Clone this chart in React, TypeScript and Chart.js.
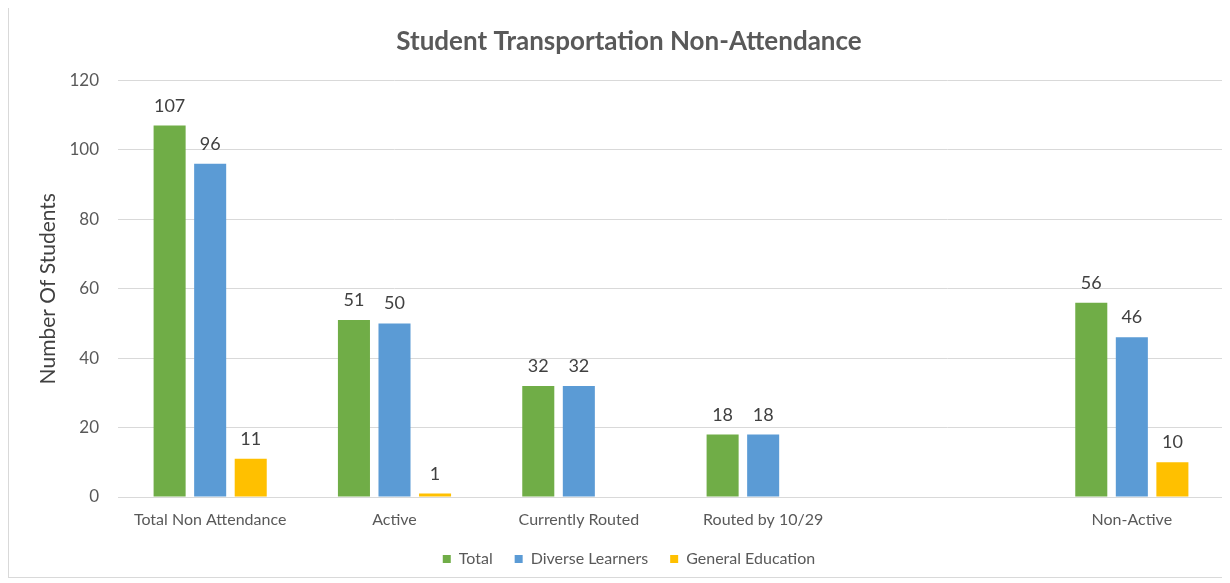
import React, { useEffect, useRef } from "react";
import { Chart, registerables } from "chart.js";

Chart.register(...registerables);

const categories = [
  "Total Non Attendance",
  "Active",
  "Currently Routed",
  "Routed by 10/29",
  "",
  "Non-Active",
];
const totalValues = [107, 51, 32, 18, null, 56];
const diverseValues = [96, 50, 32, 18, null, 46];
const generalValues = [11, 1, null, null, null, 10];
const yTicks = { min: 0, max: 120, step: 20 };

const FONT = "Lato";
const TEXT = "#595959";

const valueLabels = {
  id: "valueLabels",
  afterDatasetsDraw(chart: any) {
    const ctx = chart.ctx;
    ctx.save();
    ctx.font = `18px ${FONT}`;
    ctx.fillStyle = "#404040";
    ctx.textAlign = "center";
    ctx.textBaseline = "alphabetic";
    chart.data.datasets.forEach((ds: any, di: number) => {
      const meta = chart.getDatasetMeta(di);
      meta.data.forEach((el: any, i: number) => {
        const v = ds.data[i];
        if (v === null || v === undefined) return;
        ctx.fillText(String(v), el.x, el.y - 14);
      });
    });
    ctx.restore();
  },
};

export default function App() {
  const ref = useRef<HTMLCanvasElement | null>(null);
  useEffect(() => {
    if (!ref.current) return;
    const chart = new Chart(ref.current, {
      type: "bar",
      data: {
        labels: categories,
        datasets: [
          { label: "Total", data: totalValues, backgroundColor: "#70AD47" },
          { label: "Diverse Learners", data: diverseValues, backgroundColor: "#5B9BD5" },
          { label: "General Education", data: generalValues, backgroundColor: "#FFC000" },
        ],
      },
      options: {
        animation: false,
        responsive: false,
        maintainAspectRatio: false,
        layout: { padding: 0 },
        datasets: {
          bar: { categoryPercentage: 0.66, barPercentage: 0.79 },
        },
        plugins: {
          title: {
            display: true,
            text: "Student Transportation Non-Attendance",
            color: TEXT,
            font: { family: FONT, size: 26, weight: "bold" },
            padding: { top: 19.4, bottom: 22.9 },
          },
          legend: {
            position: "bottom",
            labels: {
              boxWidth: 8,
              boxHeight: 8,
              padding: 22,
              color: TEXT,
              font: { family: FONT, size: 16 },
            },
          },
          tooltip: { enabled: false },
        },
        scales: {
          x: {
            grid: { display: false, drawTicks: false },
            border: { display: true, color: "#d9d9d9" },
            ticks: {
              color: TEXT,
              font: { family: FONT, size: 16 },
              padding: 13,
              maxRotation: 0,
              autoSkip: false,
            },
            afterFit(scale: any) {
              scale.height = 32;
            },
          },
          y: {
            min: yTicks.min,
            max: yTicks.max,
            grid: { color: "#d9d9d9", drawTicks: false },
            border: { display: false },
            ticks: {
              stepSize: yTicks.step,
              color: TEXT,
              font: { family: FONT, size: 17 },
              padding: 19,
            },
            title: {
              display: true,
              text: "Number Of Students",
              color: "#404040",
              font: { family: FONT, size: 21 },
              padding: { top: 27, bottom: 0 },
            },
            afterFit(scale: any) {
              scale.width = 109;
            },
          },
          yRightSpace: {
            type: "linear",
            position: "right",
            display: true,
            grid: { display: false, drawTicks: false },
            border: { display: false },
            ticks: { display: false },
            afterFit(scale: any) {
              scale.width = 25;
            },
          },
        },
      },
      plugins: [valueLabels],
    });
    return () => chart.destroy();
  }, []);

  return (
    <div
      style={{
        marginTop: -2,
        width: 1214,
        overflow: "hidden",
        borderTop: "1px solid #d9d9d9",
        borderLeft: "1px solid #d9d9d9",
        borderBottom: "1px solid #d9d9d9",
        boxSizing: "border-box",
      }}
    >
      <canvas ref={ref} width={1240} height={570} style={{ display: "block" }} />
    </div>
  );
}
